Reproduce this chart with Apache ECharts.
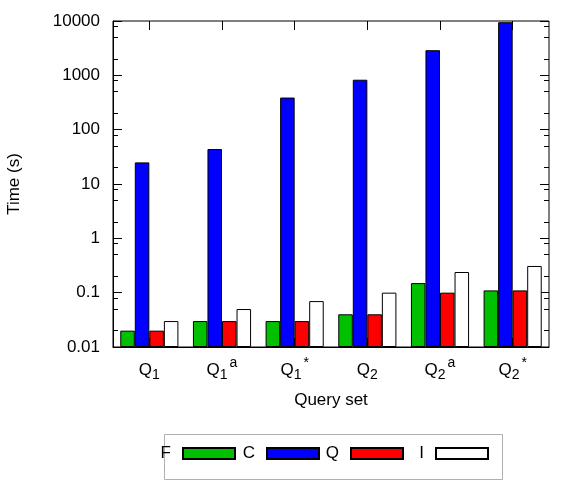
<!DOCTYPE html>
<html><head><meta charset="utf-8">
<script src="https://cdn.jsdelivr.net/npm/echarts@6/dist/echarts.min.js"></script>
<style>html,body{margin:0;padding:0;background:#fff}#c{width:581px;height:488px}</style>
</head><body><div id="c"></div>
<script>
const categories = ['Q1', 'Q1a', 'Q1*', 'Q2', 'Q2a', 'Q2*'];
const catMain = ['Q', 'Q', 'Q', 'Q', 'Q', 'Q'];
const catSub = ['1', '1', '1', '2', '2', '2'];
const catSup = ['', 'a', '*', '', 'a', '*'];
const seriesNames = ['F', 'C', 'Q', 'I'];
const valuesF = [0.02, 0.03, 0.03, 0.04, 0.15, 0.11];
const valuesC = [25, 44, 390, 830, 2900, 9500];
const valuesQ = [0.02, 0.03, 0.03, 0.04, 0.10, 0.11];
const valuesI = [0.03, 0.05, 0.07, 0.10, 0.24, 0.31];
const yTickLabels = ['0.01', '0.1', '1', '10', '100', '1000', '10000'];
const yMinorTicks = [0.02, 0.05, 0.08, 0.2, 0.5, 0.8, 2, 5, 8, 20, 50, 80, 200, 500, 800, 2000, 5000, 8000];
const colors = ['#00c000', '#0000ff', '#ff0000', '#ffffff'];
const allValues = [valuesF, valuesC, valuesQ, valuesI];

const FONT = '"Liberation Sans", Arial, Helvetica, sans-serif';
const chart = echarts.init(document.getElementById('c'), null, {renderer: 'canvas'});

const catLabel = (v, i) => '{q|' + catMain[i] + '}{sub|' + catSub[i] + '}' + (catSup[i] ? '{sup|' + catSup[i] + '}' : '');

const yBase = {
  type: 'log', logBase: 10, min: 0.01, max: 10000, startValue: 0.01,
  splitLine: {show: false}
};

// right edges of the legend swatches (layout only)
const legendRight = [345, 261, 177, 92];

const option = {
  animation: false,
  backgroundColor: '#fff',
  textStyle: {fontFamily: FONT},
  grid: {left: 113, right: 32, top: 21, bottom: 141, show: true, borderColor: '#000', borderWidth: 1,
    backgroundColor: 'transparent', containLabel: false, outerBoundsMode: 'none'},
  graphic: [{
    type: 'rect', left: 162, top: 432, silent: true,
    shape: {width: 338, height: 45},
    style: {fill: 'none', stroke: '#b0b0b0', lineWidth: 1}
  }],
  legend: seriesNames.map((name, i) => ({
    data: [name],
    right: legendRight[i], top: 445,
    align: 'right',
    orient: 'horizontal',
    padding: 0,
    itemWidth: 52, itemHeight: 11,
    icon: 'rect',
    textStyle: {fontFamily: FONT, fontSize: 17, color: '#000', padding: [0, 7, 0, 0]}
  })),
  xAxis: [{
    type: 'category', data: categories, position: 'bottom',
    axisLine: {lineStyle: {color: '#000', width: 1}},
    axisTick: {show: true, inside: true, alignWithLabel: true, length: 9, lineStyle: {color: '#000'}},
    axisLabel: {
      interval: 0,
      margin: 9, color: '#000', formatter: catLabel,
      rich: {
        q: {fontSize: 17, fontFamily: FONT, color: '#000', lineHeight: 28, verticalAlign: 'middle'},
        sub: {fontSize: 14, fontFamily: FONT, color: '#000', lineHeight: 28, verticalAlign: 'bottom', padding: [0, 0, 2, 0]},
        sup: {fontSize: 14, fontFamily: FONT, color: '#000', lineHeight: 28, verticalAlign: 'top', padding: [0, 0, 0, 2]}
      }
    },
    name: 'Query set', nameLocation: 'middle', nameGap: 45,
    nameTextStyle: {fontSize: 17, color: '#000', fontFamily: FONT, verticalAlign: 'top'}
  }, {
    type: 'category', data: categories, position: 'top',
    axisLine: {show: false},
    axisTick: {show: true, inside: true, alignWithLabel: true, length: 9, lineStyle: {color: '#000'}},
    axisLabel: {show: false}
  }],
  yAxis: [
    Object.assign({}, yBase, {
      position: 'left',
      axisLine: {show: true, lineStyle: {color: '#000'}},
      axisTick: {show: true, inside: true, length: 9, lineStyle: {color: '#000'}},
      axisLabel: {margin: 13, color: '#000', fontSize: 17, fontFamily: FONT,
        formatter: (v) => yTickLabels[Math.round(Math.log10(v)) + 2]},
      name: 'Time (s)', nameLocation: 'middle', nameGap: 90, nameRotate: 90,
      nameTextStyle: {fontSize: 17, color: '#000', fontFamily: FONT}
    }),
    Object.assign({}, yBase, {
      position: 'right',
      axisLine: {show: false},
      axisTick: {show: true, inside: true, length: 9, lineStyle: {color: '#000'}},
      axisLabel: {show: false}
    }),
    Object.assign({}, yBase, {
      position: 'left',
      axisLine: {show: false},
      axisTick: {show: true, inside: true, length: 5, customValues: yMinorTicks, lineStyle: {color: '#000'}},
      axisLabel: {show: false, customValues: yMinorTicks}
    }),
    Object.assign({}, yBase, {
      position: 'right',
      axisLine: {show: false},
      axisTick: {show: true, inside: true, length: 5, customValues: yMinorTicks, lineStyle: {color: '#000'}},
      axisLabel: {show: false, customValues: yMinorTicks}
    })
  ],
  series: seriesNames.map((name, i) => ({
    name: name,
    type: 'bar',
    xAxisIndex: 0, yAxisIndex: 0,
    data: allValues[i],
    barWidth: '20%',
    barGap: '0%',
    itemStyle: {color: colors[i], borderColor: '#000', borderWidth: 1},
    emphasis: {disabled: true}
  }))
};
chart.setOption(option);
</script></body></html>
